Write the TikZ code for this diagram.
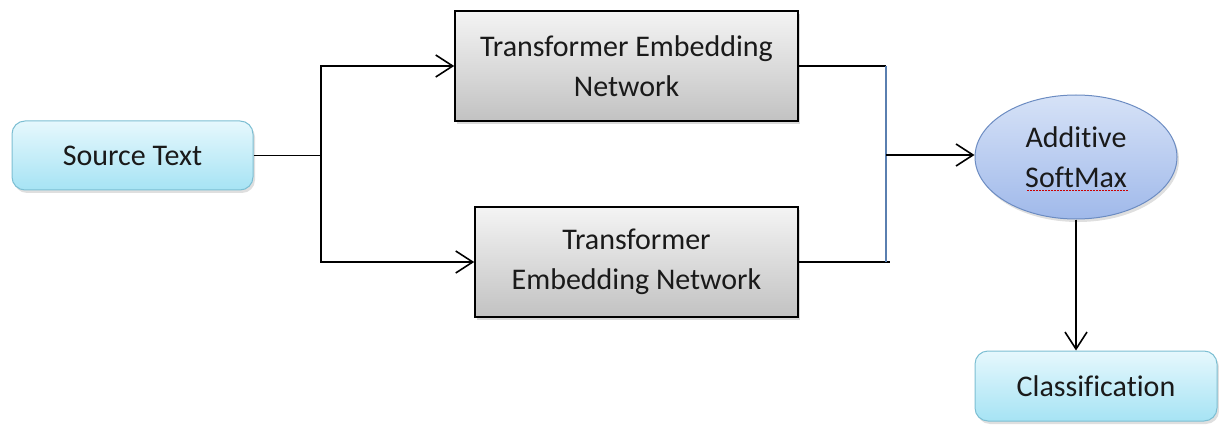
\documentclass[tikz,border=0pt]{standalone}
\usepackage{fontspec}
\setmainfont{Carlito}[Ligatures=NoCommon]
\usetikzlibrary{shapes.geometric,arrows.meta,shadows}
\definecolor{txt}{HTML}{1A1A1A}
\definecolor{cyantop}{HTML}{E6F8FD}
\definecolor{cyanbot}{HTML}{A6E3F4}
\definecolor{cyanline}{HTML}{7DBFD3}
\definecolor{graytop}{HTML}{F4F4F4}
\definecolor{graybot}{HTML}{C2C2C2}
\definecolor{elltop}{HTML}{D6E2F7}
\definecolor{ellbot}{HTML}{A0B9EA}
\definecolor{ellline}{HTML}{6C8CC2}
\definecolor{busblue}{HTML}{5A7FB0}
\tikzset{
  base/.style={font=\fontsize{30}{40}\selectfont, text=txt, align=center, inner sep=0pt},
  cyanbox/.style={base, rounded corners=13pt, draw=cyanline, line width=1pt,
    top color=cyantop, bottom color=cyanbot,
    drop shadow={shadow xshift=2pt, shadow yshift=-3pt, opacity=0.25}},
  graybox/.style={base, draw=black, line width=1.6pt,
    top color=graytop, bottom color=graybot,
    drop shadow={shadow xshift=2pt, shadow yshift=-3pt, opacity=0.3}},
  ellnode/.style={base, ellipse, draw=ellline, line width=1pt,
    top color=elltop, bottom color=ellbot,
    drop shadow={shadow xshift=2pt, shadow yshift=-3pt, opacity=0.25}},
  conn/.style={line width=1.6pt, black},
  arr/.style={conn, -{Straight Barb[length=17pt,width=22pt,line width=1.6pt]}},
}
\begin{document}
\begin{tikzpicture}[x=1pt,y=-1pt]
\useasboundingbox (0,0) rectangle (1219,425);
\node[cyanbox, minimum width=241pt, minimum height=69pt] (src) at (132.5,155.5) {Source Text};
\node[graybox, minimum width=343pt, minimum height=110pt] (ten1) at (626.5,66) {Transformer Embedding\\Network};
\node[graybox, minimum width=323pt, minimum height=110pt] (ten2) at (636.5,262) {Transformer\\Embedding Network};
\node[ellnode, minimum width=202pt, minimum height=124pt] (soft) at (1076,157) {Additive\\SoftMax};
\node[cyanbox, minimum width=242pt, minimum height=70pt] (cls) at (1096,386) {Classification};
% red dotted spell-check underline
\coordinate (ula) at (1027,190.5);
\coordinate (ulb) at (1128,190.5);
\draw[red!80!black, line width=0.9pt, dash pattern=on 1.5pt off 1.5pt] (ula) -- (ulb);
% connectors
\coordinate (junc) at (321,155.5);
\coordinate (bus1) at (886,66);
\coordinate (bus2) at (886,262);
\coordinate (bus2e) at (890,262);
\coordinate (busm) at (886,155);
\draw[conn] (src.east) -- (junc);
\draw[arr] (junc) |- (ten1.west);
\draw[arr] (junc) |- (ten2.west);
\draw[conn] (ten1.east) -- (bus1);
\draw[conn] (ten2.east) -- (bus2e);
\draw[busblue, line width=1.2pt] (bus1) -- (bus2);
\draw[arr] (busm) -- (busm -| soft.west);
\draw[arr] (soft.south) -- (soft.south |- cls.north);
\end{tikzpicture}
\end{document}
